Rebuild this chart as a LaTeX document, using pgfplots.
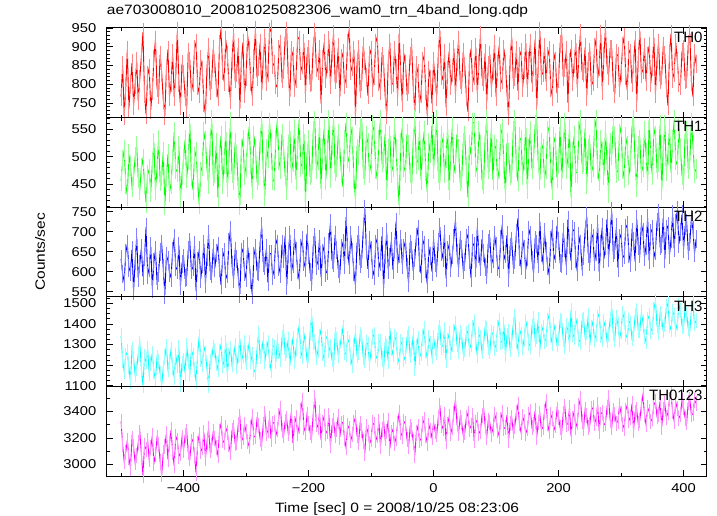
\documentclass[border=0pt]{standalone}
\usepackage{pgfplots}
\pgfplotsset{compat=1.18}
\usepackage{pgfplotstable}
\usepackage{fontspec}
\setmainfont{Liberation Sans}[FakeStretch=1.15]
\newfontfamily\thfont{Liberation Sans}
\definecolor{cR}{RGB}{255,0,0}
\definecolor{cG}{RGB}{0,255,0}
\definecolor{cB}{RGB}{0,0,255}
\definecolor{cC}{RGB}{0,255,255}
\definecolor{cM}{RGB}{255,0,255}
\definecolor{lR}{RGB}{255,135,135}
\definecolor{lG}{RGB}{150,255,150}
\definecolor{lB}{RGB}{130,130,255}
\definecolor{lC}{RGB}{150,255,255}
\definecolor{lM}{RGB}{255,150,255}

\pgfplotstableread{
t a b c d e
-500 767 456 631 1344 3324
-497.5 850 493 594 1224 3148
-495 716 512 575 1168 3020
-492.5 791 451 647 1248 3092
-490 892 429 668 1264 3180
-487.5 735 504 610 1192 3052
-485 802 483 599 1120 2972
-482.5 857 445 655 1277 3196
-480 743 464 551 1232 3132
-477.5 799 499 626 1155 3012
-475 863 520 687 1184 3068
-472.5 754 461 583 1256 3164
-470 815 440 620 1304 3244
-467.5 876 480 658 1181 3076
-465 938 496 588 1102 2918
-462.5 775 451 636 1240 3140
-460 719 416 711 1216 3116
-457.5 825 467 591 1280 3180
-455 844 477 610 1160 3036
-452.5 732 435 663 1208 3124
-450 783 488 557 1257 3216
-447.5 866 525 624 1169 3008
-445 919 440 653 1129 3072
-442.5 791 477 576 1238 3200
-440 770 531 597 1217 3152
-437.5 879 456 650 1161 3024
-435 831 464 669 1105 2920
-432.5 759 509 608 1185 3088
-430 716 412 542 1241 3136
-427.5 839 464 640 1292 3232
-425 892 504 628 1181 3037
-422.5 767 435 596 1217 3157
-420 802 451 585 1277 3261
-417.5 882 496 652 1189 3093
-415 767 544 684 1141 2989
-412.5 823 477 612 1249 3213
-410 941 472 604 1197 3181
-407.5 802 520 665 1285 3061
-405 743 424 564 1105 3085
-402.5 855 467 620 1208 3205
-400 828 496 635 1225 3108
-397.5 767 531 584 1161 3220
-395 735 461 587 1297 3252
-392.5 887 493 654 1217 3092
-390 863 560 675 1161 3044
-387.5 780 464 603 1273 3172
-385 802 440 611 1249 3188
-382.5 895 499 667 1177 3068
-380 911 509 552 1121 2932
-377.5 796 456 627 1257 3156
-375 775 413 653 1339 3224
-372.5 866 472 582 1227 3096
-370 839 483 618 1203 3128
-367.5 751 544 669 1291 3240
-365 719 528 570 1259 3048
-362.5 847 477 637 1179 3168
-360 898 451 694 1103 3272
-357.5 783 520 602 1219 3104
-355 812 566 594 1235 3144
-352.5 895 464 658 1288 3248
-350 855 471 609 1269 3196
-347.5 791 525 646 1208 3124
-345 767 426 665 1181 3068
-342.5 908 503 609 1266 3252
-340 948 538 566 1301 3308
-337.5 834 450 636 1197 3180
-335 807 487 649 1221 3164
-332.5 919 546 582 1309 3276
-330 879 445 593 1157 3244
-327.5 802 493 673 1245 3148
-325 759 563 704 1281 3088
-322.5 863 471 616 1201 3256
-320 936 458 581 1241 3280
-317.5 815 525 651 1294 3160
-315 831 503 632 1193 3168
-312.5 898 445 587 1249 3304
-310 735 412 544 1329 3360
-307.5 860 514 648 1220 3176
-305 911 530 656 1249 3200
-302.5 775 466 600 1310 3304
-300 818 482 583 1212 3246
-297.5 930 525 663 1263 3174
-295 892 554 623 1308 3134
-292.5 807 487 579 1220 3278
-290 767 442 542 1252 3358
-287.5 871 538 639 1177 3206
-285 944 514 659 1164 3214
-282.5 818 458 602 1276 3342
-280 847 466 599 1356 3294
-277.5 911 525 671 1241 3190
-275 783 565 713 1265 3158
-272.5 866 474 621 1324 3302
-270 924 429 613 1216 3382
-267.5 807 514 658 1280 3230
-265 831 498 573 1312 3254
-262.5 940 562 645 1224 3350
-260 948 525 645 1176 3190
-257.5 850 458 589 1296 3310
-255 855 455 605 1288 3318
-252.5 799 530 681 1216 3214
-250 791 566 668 1317 3263
-247.5 895 493 612 1266 3367
-245 908 477 593 1229 3423
-242.5 815 541 668 1333 3255
-240 839 514 631 1365 3215
-237.5 924 466 689 1256 3327
-235 943 439 564 1269 3343
-232.5 823 522 644 1325 3231
-230 767 546 692 1197 3279
-227.5 892 471 599 1288 3399
-225 876 490 620 1329 3161
-222.5 791 551 684 1217 3305
-220 815 458 652 1281 3353
-217.5 927 519 604 1342 3233
-215 919 567 580 1393 3289
-212.5 834 482 660 1268 3409
-210 850 487 679 1241 3481
-207.5 911 541 624 1353 3281
-205 775 418 608 1305 3241
-202.5 876 503 695 1225 3377
-200 895 530 642 1245 3312
-197.5 802 466 598 1357 3240
-195 807 471 575 1440 3216
-192.5 903 546 666 1312 3384
-190 939 564 687 1317 3504
-187.5 844 477 614 1237 3304
-185 834 493 626 1269 3280
-182.5 895 554 682 1341 3392
-180 748 442 586 1373 3184
-177.5 866 514 646 1258 3320
-175 911 551 665 1229 3363
-172.5 815 458 596 1328 3235
-170 855 506 601 1341 3251
-167.5 919 566 673 1269 3371
-165 799 461 721 1293 3139
-162.5 882 522 628 1226 3291
-160 935 567 622 1205 3331
-157.5 812 474 692 1349 3219
-155 828 482 654 1325 3267
-152.5 898 541 606 1248 3363
-150 767 514 595 1285 3206
-147.5 871 471 659 1338 3310
-145 882 445 672 1381 3318
-142.5 799 530 616 1261 3198
-140 815 562 736 1253 3126
-137.5 911 498 653 1328 3294
-135 946 490 616 1309 3270
-132.5 834 554 691 1237 3182
-130 847 535 648 1197 3222
-127.5 892 461 600 1296 3318
-125 716 423 567 1357 3355
-122.5 855 514 668 1248 3219
-120 895 503 691 1261 3163
-117.5 786 551 620 1349 3307
-115 807 566 631 1333 3259
-112.5 903 477 703 1237 3171
-110 863 466 757 1221 3083
-107.5 818 538 655 1312 3283
-105 770 525 607 1301 3243
-102.5 879 471 679 1210 3155
-100 892 487 654 1269 3186
-97.5 791 557 603 1338 3314
-95 823 546 590 1349 3298
-92.5 911 477 670 1248 3178
-90 927 458 683 1229 3218
-87.5 807 530 609 1317 3322
-85 783 566 625 1317 3138
-82.5 876 490 689 1232 3266
-80 855 498 558 1181 3330
-77.5 770 541 641 1306 3194
-75 719 439 698 1292 3247
-72.5 860 514 605 1220 3335
-70 911 538 637 1380 3119
-67.5 799 471 677 1279 3239
-65 802 482 605 1252 3263
-62.5 892 554 656 1340 3159
-60 844 514 725 1324 3199
-57.5 767 458 618 1236 3311
-55 934 412 645 1212 3391
-52.5 828 525 682 1316 3239
-50 751 554 617 1298 3212
-47.5 882 482 660 1226 3324
-45 855 471 676 1242 3308
-42.5 780 541 612 1335 3188
-40 799 522 572 1354 3132
-37.5 876 471 668 1245 3284
-35 898 450 655 1274 3260
-32.5 791 530 601 1346 3172
-30 727 566 633 1186 3068
-27.5 850 487 687 1290 3244
-25 831 493 707 1329 3289
-22.5 748 546 622 1238 3177
-20 775 458 595 1257 3193
-17.5 863 514 680 1337 3305
-15 876 546 667 1377 3337
-12.5 783 474 606 1270 3217
-10 716 434 568 1233 3161
-7.5 839 525 659 1334 3297
-5 815 506 638 1305 3257
-2.5 748 557 600 1244 3201
0 863 477 682 1335 3318
2.5 807 530 621 1279 3246
5 767 566 610 1263 3222
7.5 876 471 674 1359 3350
10 943 458 711 1383 3446
12.5 823 538 650 1287 3294
15 812 525 634 1295 3270
17.5 882 471 695 1375 3374
20 738 498 583 1223 3174
22.5 839 551 653 1322 3302
25 887 439 668 1354 3361
27.5 796 509 609 1262 3233
30 831 554 641 1298 3281
32.5 895 471 684 1365 3385
35 775 487 729 1402 3489
37.5 860 541 646 1298 3305
40 919 514 609 1266 3233
42.5 812 455 678 1358 3353
45 799 461 657 1338 3313
47.5 887 525 604 1258 3217
50 847 538 624 1277 3242
52.5 767 477 683 1354 3354
55 727 426 692 1365 3386
57.5 860 522 628 1277 3266
60 895 503 584 1301 3290
62.5 802 562 672 1381 3370
65 823 562 664 1413 3178
67.5 898 482 608 1312 3314
70 775 471 712 1245 3338
72.5 855 546 644 1349 3234
75 932 522 612 1336 3252
77.5 818 458 682 1264 3372
80 807 450 647 1304 3428
82.5 882 535 612 1384 3292
85 751 566 591 1376 3204
87.5 850 477 671 1285 3332
90 879 490 682 1264 3316
92.5 791 551 618 1360 3228
95 834 458 631 1352 3268
97.5 908 522 692 1280 3380
100 767 514 665 1298 3342
102.5 855 458 611 1381 3254
105 903 477 606 1418 3214
107.5 802 541 681 1311 3342
110 812 551 718 1314 3390
112.5 895 487 630 1397 3270
115 855 434 643 1250 3278
117.5 775 525 691 1343 3374
120 716 506 585 1362 3182
122.5 866 466 662 1274 3310
125 927 471 677 1318 3353
127.5 812 546 616 1398 3249
130 818 566 629 1438 3289
132.5 892 482 696 1314 3393
135 783 455 733 1278 3449
137.5 876 535 637 1374 3305
140 887 530 613 1350 3241
142.5 791 466 680 1286 3361
145 839 493 657 1326 3321
147.5 911 554 605 1414 3233
150 791 442 636 1379 3269
152.5 863 514 705 1304 3373
155 911 546 692 1291 3397
157.5 802 477 628 1390 3277
160 847 498 596 1427 3301
162.5 919 557 679 1323 3405
165 738 566 668 1339 3205
167.5 850 490 620 1422 3317
170 942 458 724 1275 3381
172.5 823 525 647 1363 3261
175 831 514 624 1383 3281
177.5 898 461 699 1316 3401
180 807 477 651 1327 3473
182.5 876 546 614 1415 3305
185 892 554 592 1447 3249
187.5 791 471 678 1343 3377
190 767 439 707 1303 3345
192.5 882 535 630 1396 3257
195 863 525 643 1359 3297
197.5 775 461 715 1300 3417
200 815 487 677 1331 3356
202.5 908 554 622 1419 3276
205 935 458 618 1411 3244
207.5 818 519 698 1323 3388
210 844 562 658 1291 3436
212.5 892 477 613 1392 3300
215 751 498 730 1371 3308
217.5 860 551 666 1302 3428
220 895 426 626 1467 3212
222.5 807 509 706 1350 3348
225 855 538 701 1335 3399
227.5 911 471 632 1427 3279
230 791 471 600 1391 3319
232.5 876 546 688 1324 3447
235 937 566 669 1311 3495
237.5 834 487 612 1415 3327
240 831 490 640 1423 3271
242.5 898 551 704 1335 3415
245 767 450 740 1359 3367
247.5 863 514 644 1443 3279
250 887 522 624 1299 3299
252.5 796 471 696 1384 3419
255 807 482 685 1411 3427
257.5 898 551 624 1323 3307
260 919 566 648 1347 3347
262.5 815 477 720 1432 3451
265 847 455 600 1451 3251
267.5 935 530 669 1342 3379
270 783 509 712 1323 3395
272.5 876 466 632 1411 3299
275 948 546 663 1383 3311
277.5 850 493 731 1319 3431
280 823 434 635 1351 3503
282.5 895 525 695 1423 3335
285 895 503 751 1479 3279
287.5 802 557 647 1354 3407
290 775 535 655 1327 3375
292.5 882 471 711 1431 3311
295 876 474 610 1399 3327
297.5 791 541 683 1327 3447
300 831 554 693 1364 3386
302.5 903 477 634 1452 3298
305 927 461 641 1428 3274
307.5 823 535 709 1348 3410
310 783 519 717 1332 3450
312.5 892 466 645 1415 3330
315 882 490 621 1404 3354
317.5 802 554 698 1329 3458
320 855 566 677 1356 3258
322.5 919 487 625 1441 3394
325 751 445 732 1465 3413
327.5 866 519 665 1369 3309
330 941 530 644 1369 3333
332.5 828 471 719 1454 3445
335 839 482 700 1409 3525
337.5 898 546 636 1337 3373
340 807 506 665 1313 3301
342.5 876 455 735 1422 3429
345 903 566 628 1441 3397
347.5 802 498 697 1364 3325
350 847 466 707 1382 3345
352.5 924 551 635 1470 3449
355 775 538 651 1510 3473
357.5 866 477 723 1393 3361
360 911 490 747 1358 3377
362.5 812 557 664 1451 3481
365 823 439 670 1422 3281
367.5 903 514 734 1366 3417
370 879 557 632 1398 3457
372.5 791 474 707 1483 3353
375 743 503 714 1499 3389
377.5 882 551 642 1395 3493
380 935 471 682 1371 3530
382.5 815 530 743 1459 3397
385 831 566 658 1443 3325
387.5 911 493 722 1371 3469
390 863 484 754 1403 3421
392.5 802 551 669 1491 3349
395 796 514 698 1467 3373
397.5 887 466 743 1390 3485
400 895 458 657 1392 3429
402.5 812 541 713 1477 3349
405 815 546 721 1448 3317
407.5 908 477 652 1376 3469
410 935 493 673 1368 3493
412.5 807 562 732 1464 3373
415 767 522 705 1504 3381
417.5 882 471 646 1400 3485
420 855 477 681 1416 3461
}\lc

\pgfplotsset{
  panel/.style={
    scale only axis, width=600bp, height=89.6bp,
    anchor=south west,
    xmin=-523, xmax=437,
    xtick={-400,-200,0,200,400},
    minor xtick={-500,-300,-100,100,300},
    xticklabels={},
    tick align=inside,
    major tick length=6bp, minor tick length=3bp,
    every tick/.style={black, line width=0.7bp},
    axis line style={black, line width=1bp},
    yticklabel style={anchor=east, xshift=-6bp},
    /pgf/number format/assume math mode=true,
    /pgf/number format/set thousands separator={},
  },
}

% #1 dark colour, #2 light colour, #3 column, #4 half length of the light bar
\newcommand{\series}[4]{%
  \addplot[color=#2, only marks, mark=|, mark size=#4,
    mark options={draw=#2, line width=0.8bp}]
    table[x=t,y=#3]{\lc};
  \addplot[color=#1, line width=0.9bp, mark=none] table[x=t,y=#3]{\lc};
}
\tikzset{thl/.style={anchor=north east, inner sep=0pt,
  font=\thfont\fontsize{15bp}{18bp}\selectfont}}

\begin{document}
\fontsize{12.8bp}{15bp}\selectfont
\begin{tikzpicture}
\useasboundingbox (-106.7bp,-40bp) rectangle (610.3bp,476bp);

% TH0
\begin{axis}[panel, name=p0, at={(0,358.4bp)},
  ymin=711, ymax=950,
  ytick={750,800,850,900,950},
  minor ytick={710,720,...,950},
  title={ae703008010\_20081025082306\_wam0\_trn\_4band\_long.qdp},
  title style={at={(rel axis cs:0,1)}, anchor=base west, inner sep=0pt, yshift=8bp,
    font=\fontsize{13.5bp}{16bp}\selectfont},
]
\series{cR}{lR}{a}{9bp}
\end{axis}

% TH1
\begin{axis}[panel, name=p1, at={(0,268.8bp)},
  ymin=408, ymax=571,
  ytick={450,500,550},
  minor ytick={410,420,...,570},
]
\series{cG}{lG}{b}{10bp}
\end{axis}

% TH2
\begin{axis}[panel, name=p2, at={(0,179.2bp)},
  ymin=537, ymax=761,
  ytick={550,600,650,700,750},
  minor ytick={550,575,...,750},
  ylabel={Counts/sec},
  ylabel style={at={(rel axis cs:-0.111,0.5)}, anchor=center,
    font=\fontsize{13.5bp}{16bp}\selectfont},
]
\series{cB}{lB}{c}{9bp}
\end{axis}

% TH3
\begin{axis}[panel, name=p3, at={(0,89.6bp)},
  ymin=1097, ymax=1532,
  ytick={1100,1200,1300,1400,1500},
  minor ytick={1100,1125,...,1525},
]
\series{cC}{lC}{d}{7.5bp}
\end{axis}

% TH0123
\begin{axis}[panel, name=p4, at={(0,0)},
  ymin=2912, ymax=3589,
  ytick={3000,3200,3400},
  minor ytick={2900,3000,...,3500},
  xticklabels={−400,−200,0,200,400},
  xticklabel style={anchor=base, yshift=-16.7bp},
  xlabel={Time [sec] 0 = 2008/10/25 08:23:06},
  xlabel style={at={(rel axis cs:0.484,0)}, anchor=base, yshift=-36bp,
    font=\fontsize{13.5bp}{16bp}\selectfont},
]
\series{cM}{lM}{e}{7.5bp}
\end{axis}

\node[thl] at ([xshift=-4bp,yshift=-3.7bp]p0.north east) {TH0};
\node[thl] at ([xshift=-4bp,yshift=-3.7bp]p1.north east) {TH1};
\node[thl] at ([xshift=-4bp,yshift=-3.7bp]p2.north east) {TH2};
\node[thl] at ([xshift=-4bp,yshift=-3.7bp]p3.north east) {TH3};
\node[thl] at ([xshift=-4bp,yshift=-3.7bp]p4.north east) {TH0123};
\end{tikzpicture}
\end{document}
